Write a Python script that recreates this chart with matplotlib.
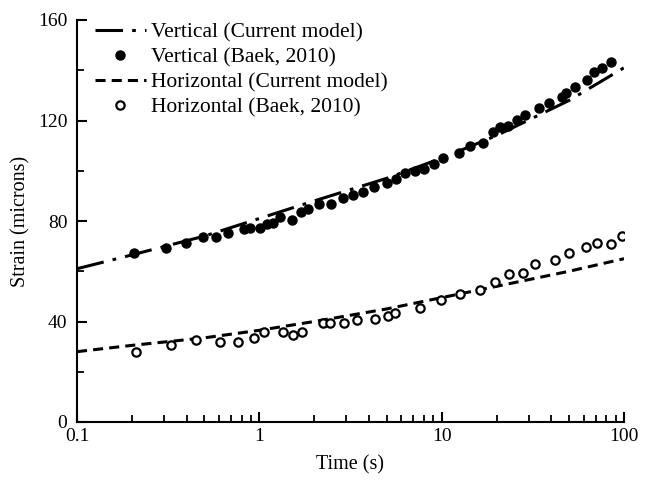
import numpy as np
import matplotlib
matplotlib.use("Agg")
import matplotlib.pyplot as plt
from matplotlib.ticker import FixedLocator, LogLocator, NullFormatter, FixedFormatter

plt.rcParams['font.family'] = ['Liberation Serif', 'DejaVu Serif']

# Model curves (read at selected times)
model_t = [0.1, 0.2, 0.5, 1, 2, 5, 10, 20, 50, 100]
vert_model = [61, 66.5, 74, 81, 88, 97, 105, 114, 128, 141]
horz_model = [28, 30.5, 33.5, 36.5, 40, 45, 49.5, 54, 60, 65]

# Baek (2010) measurements - vertical
vert_t = [0.206, 0.306, 0.397, 0.493, 0.582, 0.677, 0.821, 0.893, 1.004, 1.099,
          1.188, 1.302, 1.509, 1.686, 1.859, 2.135, 2.465, 2.867, 3.276, 3.715,
          4.25, 4.99, 5.61, 6.28, 7.12, 7.97, 9.04, 10.13, 12.43, 14.35,
          16.82, 19.07, 20.93, 23.03, 25.79, 28.77, 34.31, 38.92, 45.66, 48.0,
          53.8, 63.0, 68.6, 76.1, 84.6]
vert_s = [67.1, 69.1, 71.2, 73.6, 73.6, 75.1, 76.7, 77.1, 77.4, 78.8,
          79.4, 81.7, 80.4, 83.6, 84.9, 86.6, 86.6, 89.0, 90.3, 91.7,
          93.7, 95.0, 96.6, 99.0, 100.0, 100.6, 102.7, 104.9, 106.9, 109.9,
          111.2, 115.5, 117.5, 117.8, 120.2, 122.2, 124.9, 126.8, 129.2, 131.1,
          133.5, 136.1, 139.4, 140.8, 143.4]

# Baek (2010) measurements - horizontal
horz_t = [0.210, 0.326, 0.447, 0.612, 0.768, 0.939, 1.065, 1.348, 1.528, 1.711,
          2.237, 2.443, 2.914, 3.43, 4.30, 5.07, 5.54, 7.58, 9.96, 12.65,
          16.13, 19.65, 23.5, 28.1, 32.6, 42.0, 50.1, 61.8, 70.9, 85.2, 97.0]
horz_s = [28.0, 30.6, 32.6, 32.0, 32.0, 33.4, 35.9, 35.9, 34.6, 35.9,
          39.4, 39.5, 39.3, 40.6, 41.0, 42.2, 43.4, 45.4, 48.6, 50.9,
          52.5, 55.8, 58.9, 59.2, 62.9, 64.5, 67.1, 69.5, 71.4, 70.8, 74.0]

x_ticks = [0.1, 1, 10, 100]
x_labels = ['0.1', '1', '10', '100']
y_ticks = [0, 40, 80, 120, 160]

fig = plt.figure(figsize=(6.45, 4.82), dpi=100)
ax = fig.add_axes([77/645, 60/482, 547/645, 402/482])

ax.plot(model_t, vert_model, color='black', lw=2.2, dashes=(9, 3, 1.2, 3),
        label='Vertical (Current model)')
ax.plot(vert_t, vert_s, 'o', color='black', ms=6.5, lw=0,
        label='Vertical (Baek, 2010)')
ax.plot(model_t, horz_model, color='black', lw=2.2, dashes=(3.3, 2),
        label='Horizontal (Current model)')
ax.plot(horz_t, horz_s, 'o', mfc='white', mec='black', mew=1.6, ms=6, lw=0,
        label='Horizontal (Baek, 2010)')

ax.set_xscale('log')
ax.set_xlim(0.1, 100)
ax.set_ylim(0, 160)
ax.xaxis.set_major_locator(FixedLocator(x_ticks))
ax.xaxis.set_major_formatter(FixedFormatter(x_labels))
ax.xaxis.set_minor_locator(LogLocator(base=10, subs=np.arange(2, 10)))
ax.xaxis.set_minor_formatter(NullFormatter())
ax.yaxis.set_major_locator(FixedLocator(y_ticks))
ax.yaxis.set_minor_locator(FixedLocator([20, 60, 100, 140]))

for s in ['top', 'right']:
    ax.spines[s].set_visible(False)
for s in ['left', 'bottom']:
    ax.spines[s].set_linewidth(1.5)

ax.tick_params(which='major', direction='in', length=7, width=1.5, labelsize=14)
ax.tick_params(axis='x', which='major', pad=4)
ax.tick_params(axis='y', which='major', pad=7)
ax.tick_params(which='minor', direction='in', length=5, width=1.3)

ax.set_xlabel('Time (s)', fontsize=14.5, labelpad=8)
ax.set_ylabel('Strain (microns)', fontsize=14.5, labelpad=5)

ax.legend(loc='upper left', frameon=False, fontsize=15.5, handlelength=2.35,
          handletextpad=0.25, labelspacing=0.24, borderaxespad=0, borderpad=0,
          bbox_to_anchor=(95/645, 1 - 22/482), bbox_transform=fig.transFigure)

fig.savefig('out.png', dpi=100)
